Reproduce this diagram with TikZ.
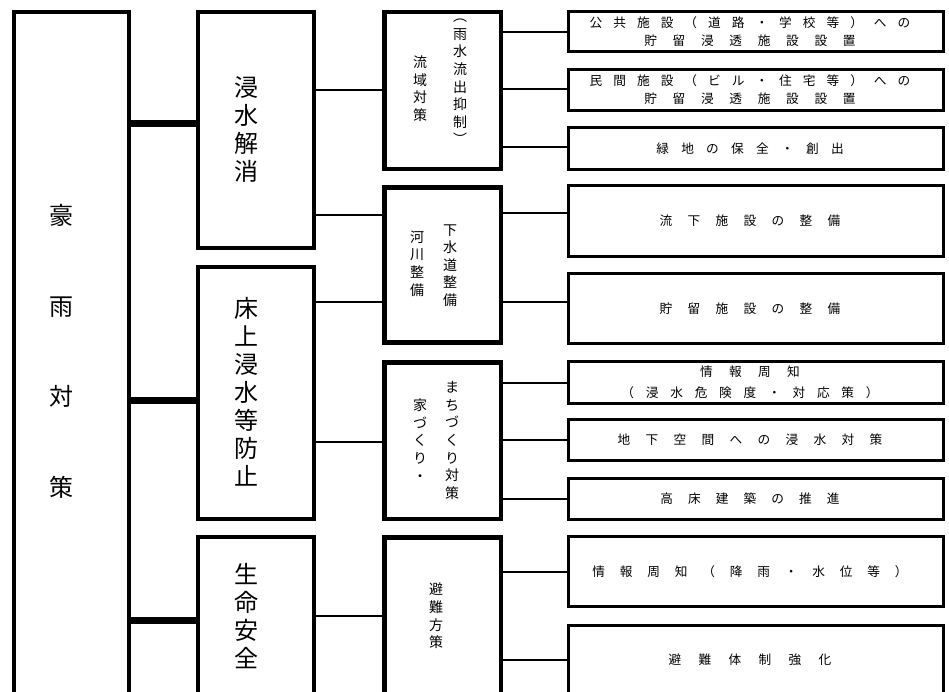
\documentclass[tikz,border=0pt]{standalone}
\usepackage{fontspec}
\setmainfont{Noto Sans CJK JP}
\newcommand{\ls}[2]{{\addfontfeature{LetterSpace=#1}#2}\kern9pt}
\begin{document}
\begin{tikzpicture}[x=0.75pt,y=-0.75pt,
	boxA/.style={draw=black,line width=3pt,inner sep=0pt,minimum width=86.25pt},
	boxB/.style={draw=black,line width=3pt,inner sep=0pt,minimum width=87pt},
	boxC/.style={draw=black,line width=3.4pt,inner sep=0pt,minimum width=87.4pt},
	boxD/.style={draw=black,line width=2.5pt,inner sep=0pt,minimum width=281pt,align=center,font=\fontsize{9.5}{13.5}\selectfont},
	bigtxt/.style={align=center,inner sep=0pt,font=\fontsize{18}{21}\selectfont},
	midtxt/.style={align=center,inner sep=0pt,font=\fontsize{10.5}{13.2}\selectfont},
	linkA/.style={black,line width=5.25pt},
	linkB/.style={black,line width=2pt},
	linkC/.style={black,line width=1.5pt}]
	\useasboundingbox (0,0) rectangle (949,692);
	% level 1
	\node[boxA,minimum height=531pt](gou) at (71.5,366){};
	\node[align=center,inner sep=0pt,font=\fontsize{18}{68}\selectfont](gouT) at (61,351.5){豪\\雨\\対\\策};
	% level 2
	\node[boxB,minimum height=177pt](shin) at (256,130){};
	\node[boxB,minimum height=189pt](yuka) at (256,393){};
	\node[boxB,minimum height=137.25pt](inochi) at (256,628.5){};
	\node[bigtxt](shinT) at (246,129){浸\\水\\解\\消};
	\node[bigtxt](yukaT) at (246,391.5){床\\上\\浸\\水\\等\\防\\止};
	\node[bigtxt](inochiT) at (246,616){生\\命\\安\\全};
	% level 3
	\node[boxC,minimum height=117.4pt](ryuiki) at (442.5,90.5){};
	\node[boxC,minimum height=116.6pt](kasen) at (442.5,265){};
	\node[boxC,minimum height=117.4pt](machi) at (442.5,440.5){};
	\node[boxC,minimum height=137pt](hinan) at (442.5,628.6){};
	\node[midtxt](ryuikiA) at (420,88.5){流\\域\\対\\策};
	\node[midtxt](ryuikiB) at (460,82){︵\\雨\\水\\流\\出\\抑\\制\\︶};
	\node[midtxt](kasenA) at (417,263.5){河\\川\\整\\備};
	\node[midtxt](kasenB) at (450,265.5){下\\水\\道\\整\\備};
	\node[midtxt](machiA) at (420,440){家\\づ\\く\\り\\・};
	\node[midtxt](machiB) at (452,440.5){ま\\ち\\づ\\く\\り\\対\\策};
	\node[midtxt](hinanT) at (436,616){避\\難\\方\\策};
	% level 4
	\node[boxD,minimum height=29.7pt](kokyo) at (756,31.5){\ls{87}{公共施設（道路・学校等）への}\\\ls{124}{貯留浸透施設設置}};
	\node[boxD,minimum height=30.5pt](minkan) at (756,90){\ls{87}{民間施設（ビル・住宅等）への}\\\ls{124}{貯留浸透施設設置}};
	\node[boxD,minimum height=31.2pt](ryokuchi) at (756,148.5){\ls{97}{緑地の保全・創出}};
	\node[boxD,minimum height=53pt](ryuka) at (756,221){\ls{121}{流下施設の整備}};
	\node[boxD,minimum height=52.2pt](choryu) at (756,308.5){\ls{121}{貯留施設の整備}};
	\node[boxD,minimum height=31.2pt,font=\fontsize{9.5}{16}\selectfont](johoA) at (756,382.5){\ls{129}{情報周知}\\\ls{93}{（浸水危険度・対応策）}};
	\node[boxD,minimum height=30.5pt](chika) at (756,440){\ls{121}{地下空間への浸水対策}};
	\node[boxD,minimum height=30.5pt](takayuka) at (756,499){\ls{119}{高床建築の推進}};
	\node[boxD,minimum height=52.2pt](johoB) at (756,571.5){\ls{117}{情報周知（降雨・水位等）}};
	\node[boxD,minimum height=51.5pt](taisei) at (756,660){\ls{137}{避難体制強化}};
	% connectors level 1 - 2
	\draw[linkA](gou.east |- 0,123)--(shin.west |- 0,123);
	\draw[linkA](gou.east |- 0,400)--(yuka.west |- 0,400);
	\draw[linkA](gou.east |- 0,620)--(inochi.west |- 0,620);
	% connectors level 2 - 3
	\draw[linkB](shin.east |- 0,90)--(ryuiki.west |- 0,90);
	\draw[linkB](shin.east |- 0,215)--(kasen.west |- 0,215);
	\draw[linkB](yuka.east |- 0,302)--(kasen.west |- 0,302);
	\draw[linkB](yuka.east |- 0,442)--(machi.west |- 0,442);
	\draw[linkB](inochi.east |- 0,616)--(hinan.west |- 0,616);
	% connectors level 3 - 4
	\draw[linkC](ryuiki.east |- 0,32)--(kokyo.west |- 0,32);
	\draw[linkC](ryuiki.east |- 0,89)--(minkan.west |- 0,89);
	\draw[linkC](ryuiki.east |- 0,147)--(ryokuchi.west |- 0,147);
	\draw[linkC](kasen.east |- 0,213)--(ryuka.west |- 0,213);
	\draw[linkC](kasen.east |- 0,302)--(choryu.west |- 0,302);
	\draw[linkC](machi.east |- 0,383)--(johoA.west |- 0,383);
	\draw[linkC](machi.east |- 0,440)--(chika.west |- 0,440);
	\draw[linkC](machi.east |- 0,499)--(takayuka.west |- 0,499);
	\draw[linkC](hinan.east |- 0,572)--(johoB.west |- 0,572);
	\draw[linkC](hinan.east |- 0,660)--(taisei.west |- 0,660);
\end{tikzpicture}
\end{document}
